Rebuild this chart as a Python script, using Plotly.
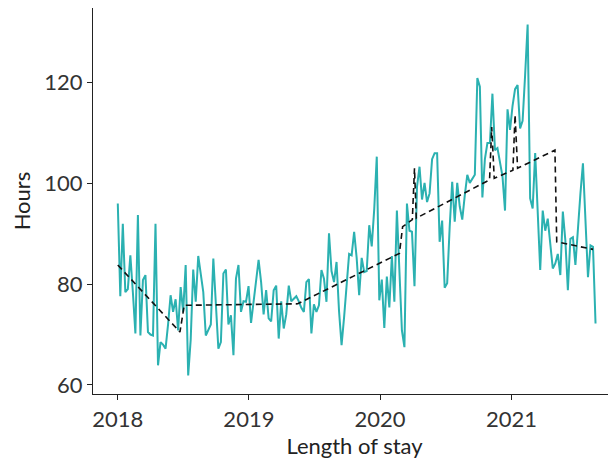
import pandas as pd
import plotly.graph_objects as go

# Weekly series
hours = [
    96, 77.6, 92.0, 78.4, 79.0, 85.7, 78.4, 70.2, 93.7, 69.8, 80.8, 81.8, 70.5, 70.0, 69.8,
    92, 63.9, 68.5, 68.0, 67.2, 72.0, 77.8, 74.5, 77, 70.8, 79.4, 74.5, 83.8, 61.9, 69,
    82.9, 76.5, 85.6, 82.0, 78.4, 69.8, 71.0, 72.0, 85.1, 75.5, 67.2, 68.5, 82.1, 82.9, 72,
    73.8, 65.9, 81.1, 83.8, 74.5, 76.6, 76.5, 79.6, 72.3, 76.5, 80.0, 84.8, 80.4, 74, 78.8,
    73.2, 72.6, 78.8, 79.7, 69.2, 76.6, 71.2, 74, 79.7, 76.6, 77.2, 77.6, 76.6, 75.3, 74.5,
    80.4, 81, 70.2, 76, 74.5, 75.8, 82.8, 81.1, 76.5, 90.1, 82.6, 80.4, 84.4, 74.6,
    67.9, 73.4, 79.7, 86, 85.7, 90.4, 85.2, 77.8, 85.2, 82.4, 82.6, 91.7, 87.5, 95, 105.3,
    76.8, 80.9, 71.3, 81.5, 75.4, 85.6, 76.5, 94.6, 80.8, 70.8, 67.5, 96.0, 90.6, 90.4, 79.6,
    99.3, 103.3, 96.8, 100.1, 96.3, 98.0, 104.8, 106.0, 106, 88.4, 92.6, 79.3, 80.2, 91.4, 100.3,
    92.4, 100.1, 95.4, 92.8, 97.6, 101.7, 100.1, 100.8, 101.7, 120.9, 119.2, 97.2, 104.8, 108.0, 108,
    117.8, 106.6, 107, 104.2, 101.4, 94.6, 114.7, 110.6, 115.4, 118.7, 119.5, 110.9, 112.4, 121.5, 131.5,
    97.0, 95, 106, 93.4, 82.8, 94.6, 90.6, 93.0, 87.7, 83.1, 84.1, 86, 81.8, 94.4, 88.7,
    78.8, 89, 89.3, 83.8, 91.4, 98, 104, 93.4, 81.4, 87.7, 87.4, 72.2,
]
weeks = pd.date_range("2018-01-01", periods=len(hours), freq="7D")

# Fitted trend vertices
trend_dates = [
    "2018-01-01", "2018-06-23", "2018-07-05", "2019-05-17", "2020-02-24", "2020-03-04",
    "2020-03-31", "2020-04-06", "2020-04-11", "2020-11-01", "2020-11-07", "2020-11-14",
    "2021-01-05", "2021-01-11", "2021-01-18", "2021-05-02", "2021-05-07", "2021-08-16",
]
trend_hours = [
    83.8, 70.5, 75.8, 76.1, 86.1, 91.4,
    92.8, 103.0, 93.1, 100.7, 111.2, 101.0,
    102.6, 113.6, 103.0, 106.6, 88.4, 86.9,
]

x_ticks = ["2018-01-01", "2019-01-01", "2020-01-01", "2021-01-01"]
x_tick_text = ["2018", "2019", "2020", "2021"]
y_ticks = [60, 80, 100, 120]

fig = go.Figure()
fig.add_trace(go.Scatter(x=weeks, y=hours, mode="lines",
                         line=dict(color="#2bb1b1", width=2), showlegend=False))
fig.add_trace(go.Scatter(x=pd.to_datetime(trend_dates), y=trend_hours, mode="lines",
                         line=dict(color="#111111", width=1.6, dash="6px,4px"),
                         showlegend=False))

axis_common = dict(showline=True, linecolor="#222222", linewidth=1.2, ticks="outside",
                   ticklen=5, tickwidth=1.2, tickcolor="#222222", showgrid=False,
                   zeroline=False, automargin=False,
                   tickfont=dict(family="Lato", size=22, color="#333333"))

fig.update_layout(
    width=608, height=456,
    margin=dict(l=85, r=0, t=0, b=70),
    paper_bgcolor="white", plot_bgcolor="white",
    font=dict(family="Lato", color="#222222"),
    xaxis=dict(type="date", range=["2017-10-24", "2021-10-19"],
               tickvals=x_ticks, ticktext=x_tick_text,
               title=dict(text="Length of stay", font=dict(family="Lato", size=22, color="#222222"),
                          standoff=8),
               **axis_common),
    yaxis=dict(range=[58.2, 134.8], tickvals=y_ticks,
               title=dict(text="Hours", font=dict(family="Lato", size=22, color="#222222"),
                          standoff=11),
               **axis_common),
)

fig.write_html("out.html")
